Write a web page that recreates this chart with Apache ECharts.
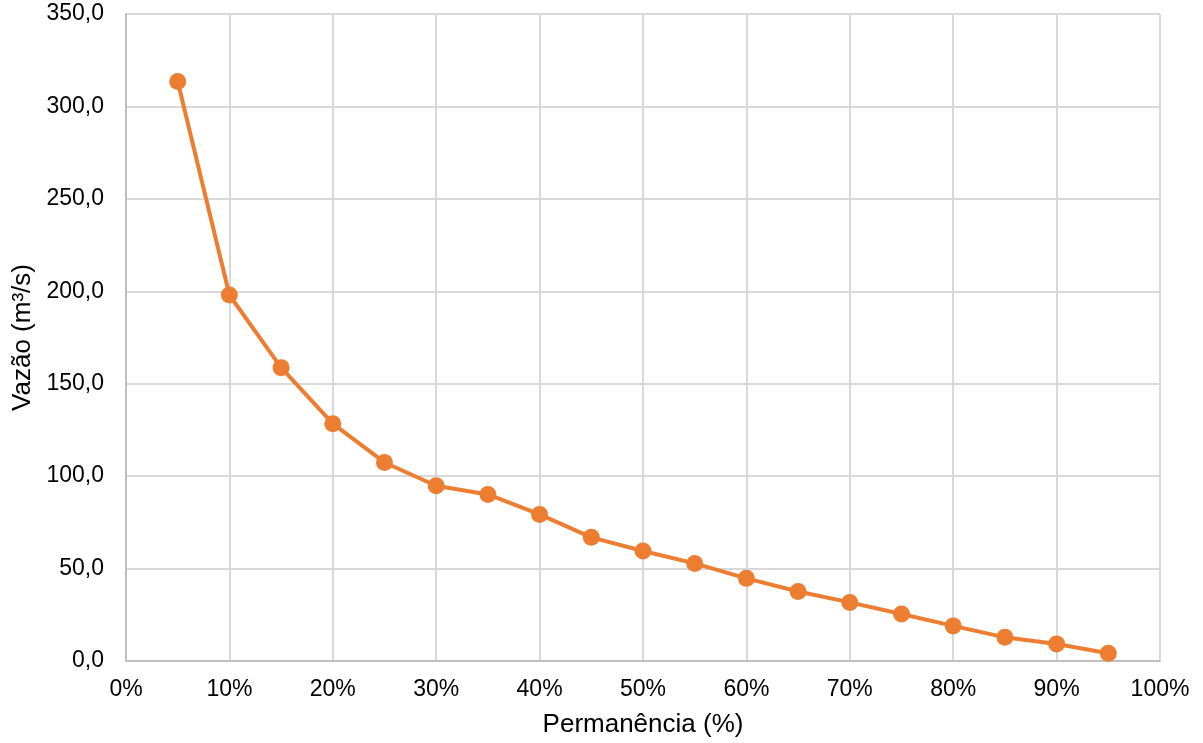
<!DOCTYPE html>
<html>
<head>
<meta charset="utf-8">
<script src="https://cdn.jsdelivr.net/npm/echarts@6/dist/echarts.min.js"></script>
<style>
html,body{margin:0;padding:0;background:#fff;}
#chart{width:1203px;height:743px;}
</style>
</head>
<body>
<div id="chart"></div>
<script>
const permanencia = [5, 10, 15, 20, 25, 30, 35, 40, 45, 50, 55, 60, 65, 70, 75, 80, 85, 90, 95];
const vazao = [313.5, 198.0, 158.7, 128.4, 107.4, 94.8, 90.1, 79.3, 66.9, 59.5, 52.8, 44.7, 37.6, 31.7, 25.4, 19.0, 12.8, 9.2, 4.2];
const xTitle = 'Permanência (%)';
const yTitle = 'Vazão (m³/s)';

const chart = echarts.init(document.getElementById('chart'));
const font = 'Liberation Sans, Arial, sans-serif';
chart.setOption({
  animation: false,
  grid: {left: 126, right: 43, top: 14, bottom: 81},
  xAxis: {
    type: 'value', min: 0, max: 100, interval: 10,
    name: xTitle, nameLocation: 'middle', nameGap: 51,
    nameTextStyle: {fontFamily: font, fontSize: 26, color: '#000'},
    axisLine: {show: true, lineStyle: {color: '#bfbfbf', width: 2}},
    axisTick: {show: false},
    axisLabel: {formatter: '{value}%', fontFamily: font, fontSize: 23, color: '#000', margin: 17},
    splitLine: {show: true, lineStyle: {color: '#d9d9d9', width: 2}}
  },
  yAxis: {
    type: 'value', min: 0, max: 350, interval: 50,
    name: yTitle, nameLocation: 'middle', nameGap: 89, nameRotate: 90,
    nameTextStyle: {fontFamily: font, fontSize: 26, color: '#000'},
    axisLine: {show: true, lineStyle: {color: '#bfbfbf', width: 2}},
    axisTick: {show: false},
    axisLabel: {formatter: v => v.toFixed(1).replace('.', ','), fontFamily: font, fontSize: 23, color: '#000', margin: 22},
    splitLine: {show: true, lineStyle: {color: '#d9d9d9', width: 2}}
  },
  series: [{
    type: 'line',
    data: permanencia.map((p, i) => [p, vazao[i]]),
    symbol: 'circle', symbolSize: 17,
    lineStyle: {color: '#ED7D31', width: 4},
    itemStyle: {color: '#ED7D31'}
  }]
});
</script>
</body>
</html>
